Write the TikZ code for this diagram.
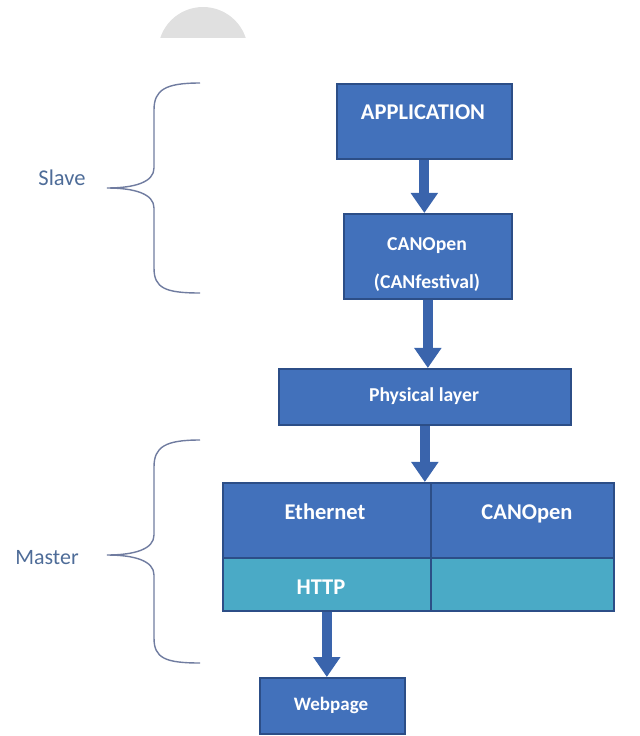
\documentclass[tikz,border=0pt]{standalone}
\usepackage{fontspec}
\setmainfont{Carlito}
\usetikzlibrary{arrows.meta}
\definecolor{boxblue}{RGB}{66,113,187}
\definecolor{boxedge}{RGB}{44,78,135}
\definecolor{boxteal}{RGB}{74,170,198}
\definecolor{arrowblue}{RGB}{58,100,172}
\definecolor{bracegray}{RGB}{112,124,160}
\definecolor{labelblue}{RGB}{78,108,152}
\definecolor{wmgray}{RGB}{224,224,224}
\def\px{0.025cm}
\tikzset{
	layerbox/.style={draw=boxedge, fill=boxblue, line width=1.2pt, inner sep=0pt, anchor=north west},
	layerteal/.style={layerbox, fill=boxteal},
	boxtext/.style={text=white, font=\bfseries\fontsize{14}{16}\selectfont, inner sep=0pt, text height=0.64em, text depth=0pt},
	bigtext/.style={boxtext, font=\bfseries\fontsize{16}{19}\selectfont},
	sidelabel/.style={text=labelblue, font=\fontsize{16}{19}\selectfont, inner sep=0pt, text height=0.64em, text depth=0pt},
	flowarrow/.style={arrowblue, line width=0.25cm, -{Triangle[width=0.65cm,length=0.5cm]}},
	bracestyle/.style={bracegray, line width=1pt}
}

\begin{document}
\begin{tikzpicture}[x=\px, y=-\px]
			%%%%% START %%%%%
			\useasboundingbox (0, 0) rectangle (639, 736);
			
			\begin{scope}
				\clip (150, 0) rectangle (260, 38);
				\fill[wmgray] (203, 52) circle (45);
			\end{scope}
			
			\node[layerbox, minimum width=175*\px, minimum height=75*\px] (app) at (336, 83) {};
			\node[layerbox, minimum width=168*\px, minimum height=85*\px] (can) at (343, 213) {};
			\node[layerbox, minimum width=292*\px, minimum height=56*\px] (phys) at (278, 368) {};
			
			\node[layerbox, minimum width=208*\px, minimum height=75*\px] (eth) at (222, 482) {};
			\node[layerbox, minimum width=183*\px, minimum height=75*\px] (canm) at (430, 482) {};
			\node[layerteal, minimum width=208*\px, minimum height=53*\px] (http) at (222, 557) {};
			\node[layerteal, minimum width=183*\px, minimum height=53*\px] (free) at (430, 557) {};
			
			\node[layerbox, minimum width=145*\px, minimum height=56*\px] (web) at (259, 677) {};
			
			\node[bigtext] (apptext) at (423, 115) {APPLICATION};
			\node[boxtext] (cantext) at (427, 246) {CANOpen};
			\node[boxtext] (festtext) at (427, 284) {(CANfestival)};
			\node[boxtext] (phystext) at (424, 397) {Physical layer};
			\node[bigtext] (ethtext) at (325, 515) {Ethernet};
			\node[bigtext] (canmtext) at (527, 515) {CANOpen};
			\node[bigtext] (httptext) at (321, 590) {HTTP};
			\node[boxtext, font=\bfseries\fontsize{13.5}{16}\selectfont] (webtext) at (331, 706) {Webpage};
			
			\draw[flowarrow] (app.south) -- (app.south |- can.north);
			\draw[flowarrow] (can.south) -- (can.south |- phys.north);
			\draw[flowarrow] (phys.south) -- (phys.south |- eth.north);
			\draw[flowarrow] (http.south) -- (http.south |- web.north);
			
			\node[sidelabel] (slave) at (62, 181) {Slave};
			\draw[bracestyle] (200, 83) .. controls (165, 83) and (154, 90) .. (154, 110) -- (154, 168)
				.. controls (154, 182) and (135, 188) .. (107, 188)
				.. controls (135, 188) and (154, 194) .. (154, 208) -- (154, 268)
				.. controls (154, 288) and (165, 293) .. (200, 293);
			
			\node[sidelabel, font=\fontsize{15.6}{18}\selectfont] (master) at (47, 560) {Master};
			\draw[bracestyle] (200, 440) .. controls (165, 440) and (154, 447) .. (154, 467) -- (154, 535)
				.. controls (154, 549) and (135, 555) .. (107, 555)
				.. controls (135, 555) and (154, 561) .. (154, 575) -- (154, 638)
				.. controls (154, 658) and (165, 663) .. (200, 663);
			
			%%%%% END %%%%%
\end{tikzpicture}
\end{document}
